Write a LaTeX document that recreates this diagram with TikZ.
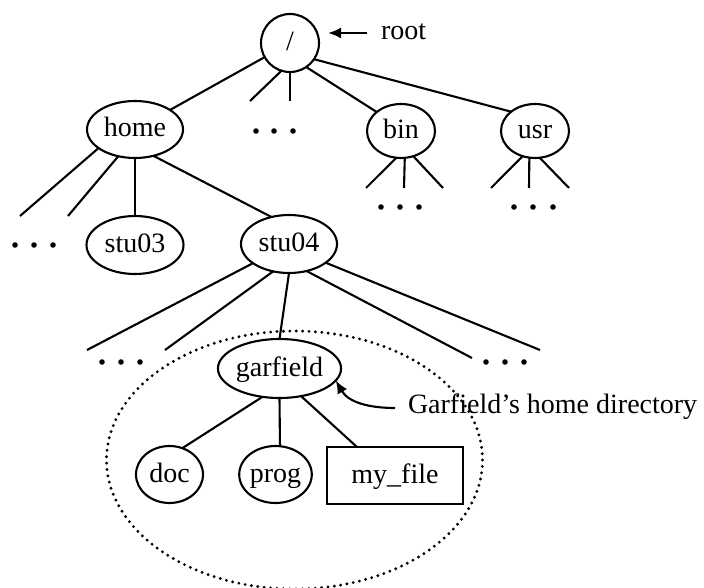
\documentclass[tikz,border=0pt]{standalone}
\usepackage{fontspec}
\setmainfont{Liberation Serif}
\usetikzlibrary{shapes.geometric,arrows.meta}
\begin{document}
\begin{tikzpicture}[x=1pt,y=-1pt,line width=2.1pt,
  every node/.style={font=\fontsize{28}{33}\selectfont,inner sep=0pt,outer sep=0pt},
  dirnode/.style={draw,ellipse,line width=2.1pt,text height=19pt,text depth=4pt},
  filenode/.style={draw,rectangle,line width=2.1pt,text height=19pt,text depth=4pt},
  lbl/.style={draw=none},
  pointer/.style={-{Latex[length=13pt,width=11pt]}},
  region/.style={line width=3.2pt,line cap=round,dash pattern=on 0pt off 6.4pt},
  dotmark/.style={fill=black}]
\useasboundingbox (0,0) rectangle (704,588);

% nodes
\node[dirnode,circle,minimum size=58] (root) at (290,43) {/};
\node[dirnode,minimum width=96,minimum height=57] (home) at (135,129.5) {home};
\node[dirnode,minimum width=68,minimum height=54] (bin) at (401,131) {bin};
\node[dirnode,minimum width=68,minimum height=54] (usr) at (535,131) {usr};
\node[dirnode,minimum width=97,minimum height=58] (stu03) at (135,245) {stu03};
\node[dirnode,minimum width=96,minimum height=58] (stu04) at (289,244) {stu04};
\node[dirnode,minimum width=115,minimum height=59] (garfield) at (279.5,368.5) {garfield};
\node[dirnode,minimum width=67,minimum height=57] (doc) at (169.5,474.5) {doc};
\node[dirnode,minimum width=67,minimum height=57] (prog) at (275.5,474.5) {prog};
\node[filenode,minimum width=136,minimum height=57] (myfile) at (395,475.5) {my\_file};

% labels
\node[lbl,anchor=base west] (rootlbl) at (381,40) {root};
\coordinate (rtip) at (328,33);
\coordinate (rtail) at (367,33);
\draw[pointer] (rtail) -- (rtip);

\node[lbl,anchor=base west] (gtext) at (408,413) {Garfield’s home directory};
\coordinate (gtail) at (395,408);
\draw[pointer] (gtail) to[out=180,in=-60] (garfield.-12);

% dotted region
\draw[region] (294.5,460) ellipse [x radius=188,y radius=129];

% root connectors
\draw (root) -- (home);
\draw (root.-56) -- (bin.142);
\draw (root.-34) -- (usr.141);
\coordinate (r1) at (250,101);
\coordinate (r2) at (290,101);
\draw (root.-107) -- (r1);
\draw (root.south) -- (r2);

% home connectors
\coordinate (h1) at (20,216);
\coordinate (h2) at (68,216);
\draw (home.-153) -- (h1);
\draw (home.-122) -- (h2);
\draw (home.south) -- (stu03.north);
\draw (home.-55) -- (stu04.123);

% stu04 connectors
\coordinate (s1) at (87,350);
\coordinate (s2) at (165,350);
\coordinate (s3) at (472,358);
\coordinate (s4) at (540,350);
\draw (stu04.-152) -- (s1);
\draw (stu04.-120) -- (s2);
\draw (stu04.south) -- (garfield.north);
\draw (stu04.-57) -- (s3);
\draw (stu04.-27) -- (s4);

% bin connectors
\coordinate (b1) at (366,188);
\coordinate (b2) at (404,188);
\coordinate (b3) at (443,188);
\draw (bin.-100) -- (b1);
\draw (bin.-82) -- (b2);
\draw (bin.-64) -- (b3);

% usr connectors
\coordinate (u1) at (491,188);
\coordinate (u2) at (529,188);
\coordinate (u3) at (569,188);
\draw (usr.-116) -- (u1);
\draw (usr.-102) -- (u2);
\draw (usr.-80) -- (u3);

% garfield connectors
\draw (garfield.-121) -- (doc.64);
\draw (garfield.south) -- (prog.81);
\coordinate (mf) at (357,447);
\draw (garfield.-52) -- (mf);

% ellipsis dots
\foreach \p in {(15,245),(34,245),(53,245),
                (256,131),(274,131),(293,131),
                (381,207),(400,207),(419,207),
                (514,207),(533,207),(553,207),
                (102,362),(121,362),(140,362),
                (486,362),(505,362),(524,362)}
  \fill[dotmark] \p circle [radius=2.8];
\end{tikzpicture}
\end{document}
